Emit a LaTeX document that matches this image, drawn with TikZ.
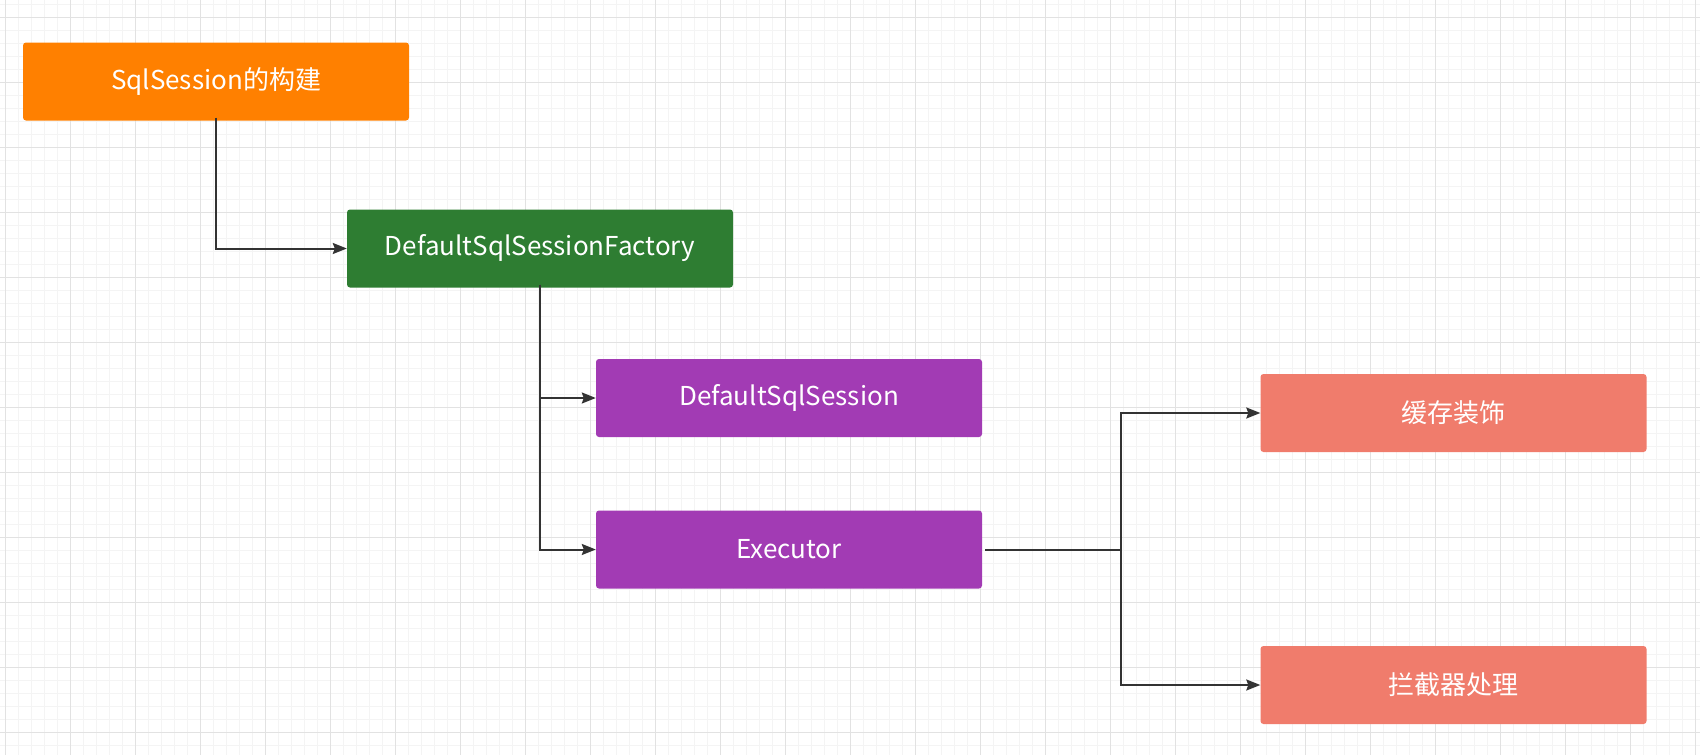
\documentclass[tikz,border=0pt]{standalone}
\usepackage{fontspec}
\setmainfont{Noto Sans CJK SC}
\usetikzlibrary{arrows.meta}

\definecolor{gridminor}{HTML}{F4F4F4}
\definecolor{gridmajor}{HTML}{E2E2E2}
\definecolor{buildfill}{HTML}{FF8000}
\definecolor{factoryfill}{HTML}{2E7D32}
\definecolor{sessionfill}{HTML}{A23BB4}
\definecolor{decorfill}{HTML}{F07C6C}
\definecolor{linkline}{HTML}{333333}

\begin{document}
\begin{tikzpicture}[
		x=1pt, y=-1pt,
		>={Stealth[length=14pt,width=11pt,inset=2pt]},
		stage/.style={rounded corners=3pt, minimum width=386pt, minimum height=78pt,
			inner sep=0pt, text=white, font=\fontsize{26}{31}\selectfont},
		link/.style={->, draw=linkline, line width=2pt}
	]

		% Canvas and grid
		\useasboundingbox (0,0) rectangle (1700,755);
		\fill[white] (0,0) rectangle (1700,755);
		\foreach \gx in {0,...,130}
			\draw[gridminor, line width=0.8pt] (5+13*\gx,0) -- (5+13*\gx,755);
		\foreach \gy in {0,...,57}
			\draw[gridminor, line width=0.8pt] (0,4+13*\gy) -- (1700,4+13*\gy);
		\foreach \gx in {0,...,26}
			\draw[gridmajor, line width=1pt] (5+65*\gx,0) -- (5+65*\gx,755);
		\foreach \gy in {0,...,11}
			\draw[gridmajor, line width=1pt] (0,17+65*\gy) -- (1700,17+65*\gy);

		% Stages
		\node[stage, fill=buildfill] (build) at (216, 81.5) {SqlSession的构建};
		\node[stage, fill=factoryfill] (factory) at (540, 248.5) {DefaultSqlSessionFactory};
		\node[stage, fill=sessionfill] (session) at (789, 398) {DefaultSqlSession};
		\node[stage, fill=sessionfill] (executor) at (789, 549.5) {Executor};
		\node[stage, fill=decorfill] (cache) at (1453.5, 413) {缓存装饰};
		\node[stage, fill=decorfill] (plugin) at (1453.5, 685) {拦截器处理};

		% Split point
		\coordinate (split) at (1121, 549.5);

		% Links
		\draw[link] ([yshift=3pt]build.south) |- (factory.west);
		\draw[link] ([yshift=3pt]factory.south) |- (session.west);
		\draw[link] ([yshift=3pt]factory.south) |- (executor.west);
		\draw[draw=linkline, line width=2pt] ([xshift=3pt]executor.east) -- (split);
		\draw[link] (split) |- (cache.west);
		\draw[link] (split) |- (plugin.west);
	\end{tikzpicture}
\end{document}
